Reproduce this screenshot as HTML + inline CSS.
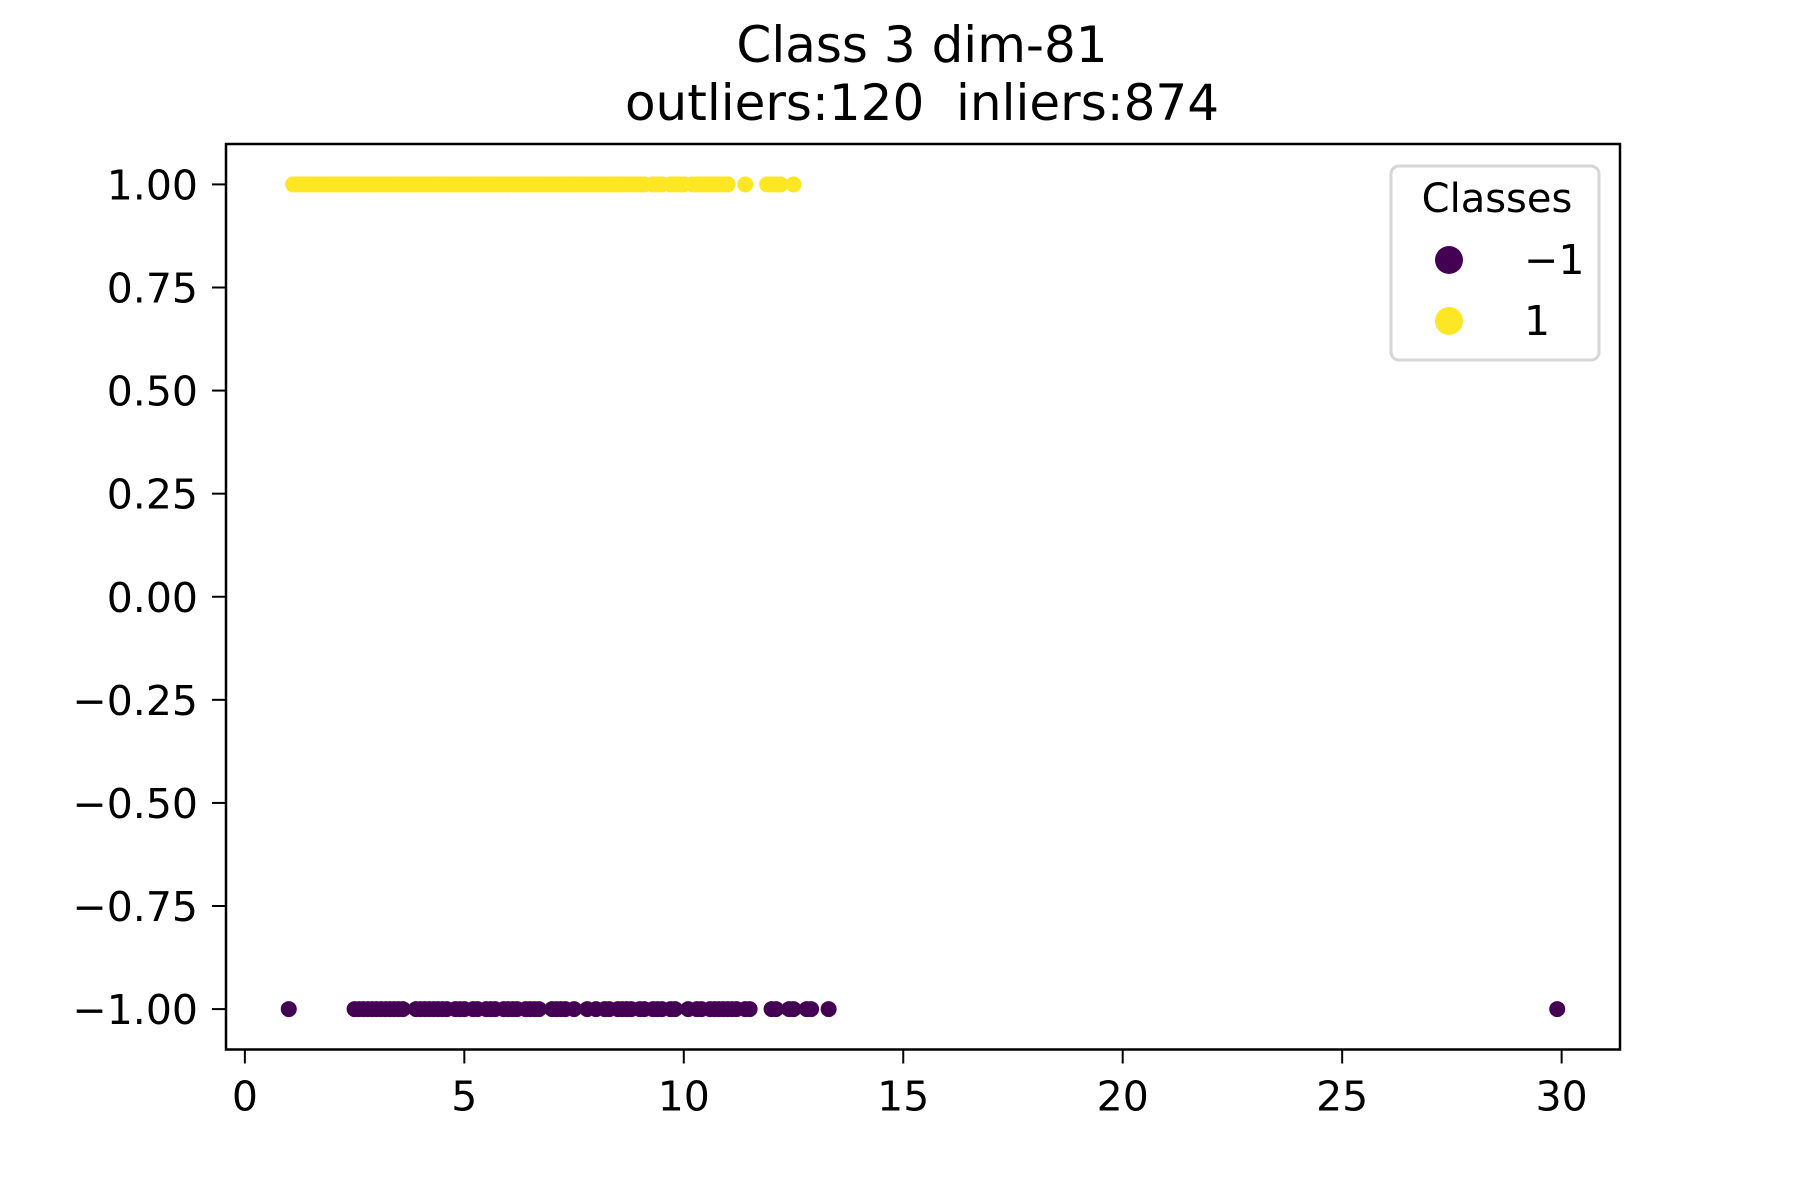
<!DOCTYPE html>
<html><head><meta charset="utf-8"><style>
html,body{margin:0;padding:0;background:#fff;}
svg{display:block;font-family:"DejaVu Sans","Liberation Sans",sans-serif;}
</style></head><body>
<svg id="chart" width="1800" height="1200" viewBox="0 0 1800 1200" xmlns="http://www.w3.org/2000/svg">
<rect width="1800" height="1200" fill="#fff"/>
<text x="922" y="62" font-size="50" text-anchor="middle">Class 3 dim-81</text>
<text x="922" y="120" font-size="50" text-anchor="middle" style="white-space:pre">outliers:120&#160;&#160;inliers:874</text>
<g id="points"></g>
<rect x="226" y="144" width="1394" height="905.5" fill="none" stroke="#000" stroke-width="2.5"/>
<g id="xticks"></g>
<g id="yticks"></g>
<g transform="translate(-6,0)">
<rect x="1397" y="166" width="208" height="194" rx="8" fill="#fff" stroke="#d6d6d6" stroke-width="3"/>
<text x="1503" y="212" font-size="40" text-anchor="middle">Classes</text>
<circle cx="1455" cy="260" r="14" fill="#440154"/>
<text x="1530" y="274" font-size="41">−1</text>
<circle cx="1455" cy="321" r="14" fill="#fde725"/>
<text x="1530" y="335" font-size="41">1</text>
</g>
</svg>
<script>
const xTickValues = [0, 5, 10, 15, 20, 25, 30];
const yTickValues = [1, 0.75, 0.5, 0.25, 0, -0.25, -0.5, -0.75, -1];
const yTickLabels = ["1.00","0.75","0.50","0.25","0.00","−0.25","−0.50","−0.75","−1.00"];
const inlierX = [1.1,1.2,1.3,1.4,1.5,1.6,1.7,1.8,1.9,2.0,2.1,2.2,2.3,2.4,2.5,2.6,2.7,2.8,2.9,3.0,3.1,3.2,3.3,3.4,3.5,3.6,3.7,3.8,3.9,4.0,4.1,4.2,4.3,4.4,4.5,4.6,4.7,4.8,4.9,5.0,5.1,5.2,5.3,5.4,5.5,5.6,5.7,5.8,5.9,6.0,6.1,6.2,6.3,6.4,6.5,6.6,6.7,6.8,6.9,7.0,7.1,7.2,7.3,7.4,7.5,7.6,7.7,7.8,7.9,8.0,8.1,8.2,8.3,8.4,8.5,8.6,8.7,8.8,8.9,9.0,9.1,9.3,9.4,9.5,9.7,9.8,9.9,10.0,10.2,10.3,10.4,10.5,10.6,10.7,10.8,10.9,11.0,11.4,11.9,12.0,12.1,12.2,12.5];
const inlierY = inlierX.map(() => 1);
const outlierX = [1.0,2.5,2.6,2.7,2.8,2.9,3.0,3.1,3.2,3.3,3.4,3.5,3.6,3.9,4.0,4.1,4.2,4.3,4.4,4.5,4.6,4.8,4.9,5.0,5.2,5.3,5.5,5.6,5.7,5.9,6.0,6.1,6.2,6.4,6.5,6.6,6.7,7.0,7.1,7.2,7.3,7.5,7.8,8.0,8.2,8.3,8.5,8.6,8.7,8.8,9.0,9.1,9.3,9.4,9.5,9.7,9.8,10.1,10.3,10.4,10.6,10.7,10.8,10.9,11.0,11.1,11.2,11.4,11.5,12.0,12.1,12.4,12.5,12.8,12.9,13.3,29.9];
const outlierY = outlierX.map(() => -1);

const X0=226, X1=1620, XMIN=-0.43, XMAX=31.33;
const Y0=144, Y1=1049.5, YMAX=1.098, YMIN=-1.098;
function xs(v){return X0+(v-XMIN)/(XMAX-XMIN)*(X1-X0);}
function ys(v){return Y0+(YMAX-v)/(YMAX-YMIN)*(Y1-Y0);}
const NS="http://www.w3.org/2000/svg";
const pts=document.getElementById('points');
function dot(x,y,c,name){
  const e=document.createElementNS(NS,'circle');
  e.setAttribute('cx',xs(x));e.setAttribute('cy',ys(y));e.setAttribute('r',8);e.setAttribute('fill',c);
  
  
  pts.appendChild(e);
}
outlierX.forEach((x,i)=>dot(x,outlierY[i],'#440154','outlier-point'));
inlierX.forEach((x,i)=>dot(x,inlierY[i],'#fde725','inlier-point'));
const xt=document.getElementById('xticks');
xTickValues.forEach(v=>{
  const l=document.createElementNS(NS,'line');
  l.setAttribute('x1',xs(v));l.setAttribute('x2',xs(v));l.setAttribute('y1',Y1);l.setAttribute('y2',Y1+14);
  l.setAttribute('stroke','#000');l.setAttribute('stroke-width',2);
  
  
  xt.appendChild(l);
  const t=document.createElementNS(NS,'text');
  t.setAttribute('x',xs(v));t.setAttribute('y',Y1+61);t.setAttribute('font-size',41);t.setAttribute('text-anchor','middle');
  t.textContent=String(v);
  
  
  xt.appendChild(t);
});
const yt=document.getElementById('yticks');
yTickValues.forEach((v,i)=>{
  const l=document.createElementNS(NS,'line');
  l.setAttribute('x1',X0-14);l.setAttribute('x2',X0);l.setAttribute('y1',ys(v));l.setAttribute('y2',ys(v));
  l.setAttribute('stroke','#000');l.setAttribute('stroke-width',2);
  
  
  yt.appendChild(l);
  const t=document.createElementNS(NS,'text');
  t.setAttribute('x',X0-28);t.setAttribute('y',ys(v)+15);t.setAttribute('font-size',41);t.setAttribute('text-anchor','end');
  t.textContent=yTickLabels[i];
  
  
  yt.appendChild(t);
});
</script>
</body></html>
